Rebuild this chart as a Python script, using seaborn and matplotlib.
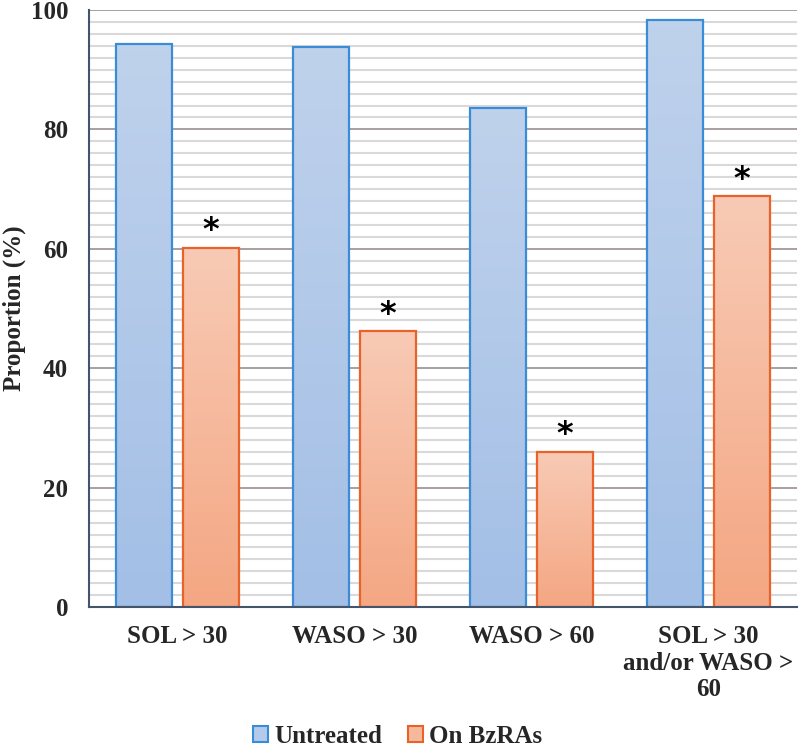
import numpy as np
import pandas as pd
import matplotlib
matplotlib.use("Agg")
import matplotlib.pyplot as plt
import seaborn as sns
from matplotlib.colors import LinearSegmentedColormap
from matplotlib.patches import Patch

categories = ["SOL > 30", "WASO > 30", "WASO > 60", "SOL > 30\nand/or WASO >\n60"]
untreated = [94.3, 93.8, 83.6, 98.3]
on_bzras = [60.2, 46.2, 26.0, 68.8]
groups = ["Untreated", "On BzRAs"]
significant = [True, True, True, True]  # asterisks on BzRA bars

df = pd.DataFrame({
    "cat": categories * 2,
    "val": untreated + on_bzras,
    "grp": [groups[0]] * 4 + [groups[1]] * 4,
})

sns.set_style("white")
plt.rcParams["font.family"] = ["Liberation Serif", "DejaVu Serif"]
plt.rcParams["font.weight"] = "bold"

BLUE_EDGE, ORANGE_EDGE = "#3B8CD6", "#E8622A"
# light at top, darker at bottom
blue_cm = LinearSegmentedColormap.from_list("b", ["#A3BFE6", "#BFD2EC"])
orange_cm = LinearSegmentedColormap.from_list("o", ["#F4A783", "#F8CAB5"])

fig = plt.figure(figsize=(7.99, 7.51), dpi=100)
ax = fig.add_axes([89 / 799, 144 / 751, 708 / 799, 597 / 751])

sns.barplot(data=df, x="cat", y="val", hue="grp", order=categories, hue_order=groups,
            palette=["#B3CAEA", "#F6B99C"], width=0.76, gap=0.17, legend=False,
            ax=ax, zorder=3)

# gridlines: minor every 2, major every 20
for y in np.arange(2, 100, 2):
    if y % 20:
        ax.axhline(y, color="#D9D9D9", lw=1.5, zorder=1)
for y in np.arange(20, 101, 20):
    ax.axhline(y, color="#A8A0A0", lw=1.4, zorder=1)

# gradient fills + edges
bars = ax.patches
for i, p in enumerate(bars):
    is_blue = i < len(categories)
    p.set_edgecolor(BLUE_EDGE if is_blue else ORANGE_EDGE)
    p.set_linewidth(1.6)
    x0, w, h = p.get_x(), p.get_width(), p.get_height()
    grad = np.linspace(0, 1, 100).reshape(-1, 1)
    im = ax.imshow(grad, cmap=blue_cm if is_blue else orange_cm, aspect="auto",
                   extent=[x0, x0 + w, 0, h], origin="lower", zorder=3.5)
    im.set_clip_path(p)
    p.set_zorder(4)
    p.set_facecolor("none")
ax.set_ylim(0, 100)
ax.set_xlim(-0.5, 3.5)

for i, p in enumerate(bars[len(categories):]):
    if significant[i]:
        ax.annotate("*", (p.get_x() + p.get_width() / 2, p.get_height()),
                    xytext=(0, 1), textcoords="offset points", ha="center", va="bottom",
                    fontsize=23, fontweight="bold", color="black",
                    family=["DejaVu Sans"])

for s in ["top", "right"]:
    ax.spines[s].set_visible(False)
for s in ["left", "bottom"]:
    ax.spines[s].set_color("#44546A")
    ax.spines[s].set_linewidth(1.5)
    ax.spines[s].set_zorder(5)

ax.set_yticks(np.arange(0, 101, 20))
ax.tick_params(axis="y", length=0, pad=15, labelsize=18)
ax.tick_params(axis="x", length=0, pad=13, labelsize=18)
for t in ax.get_xticklabels() + ax.get_yticklabels():
    t.set_fontweight("bold")
for t in ax.get_xticklabels():
    t.set_linespacing(1.2)
ax.set_xlabel("")
ax.set_ylabel("Proportion (%)", fontsize=18, fontweight="bold", labelpad=3)

handles = [Patch(facecolor="#B3CAEA", edgecolor=BLUE_EDGE, lw=1.5),
           Patch(facecolor="#F6B99C", edgecolor=ORANGE_EDGE, lw=1.5)]
ax.legend(handles, groups, loc="center", bbox_to_anchor=(0.436, -0.217), ncol=2,
          frameon=False, prop={"size": 18, "weight": "bold"},
          handlelength=0.6, handleheight=0.6, handletextpad=0.25, columnspacing=1.0)

fig.savefig("out.png", dpi=100)
